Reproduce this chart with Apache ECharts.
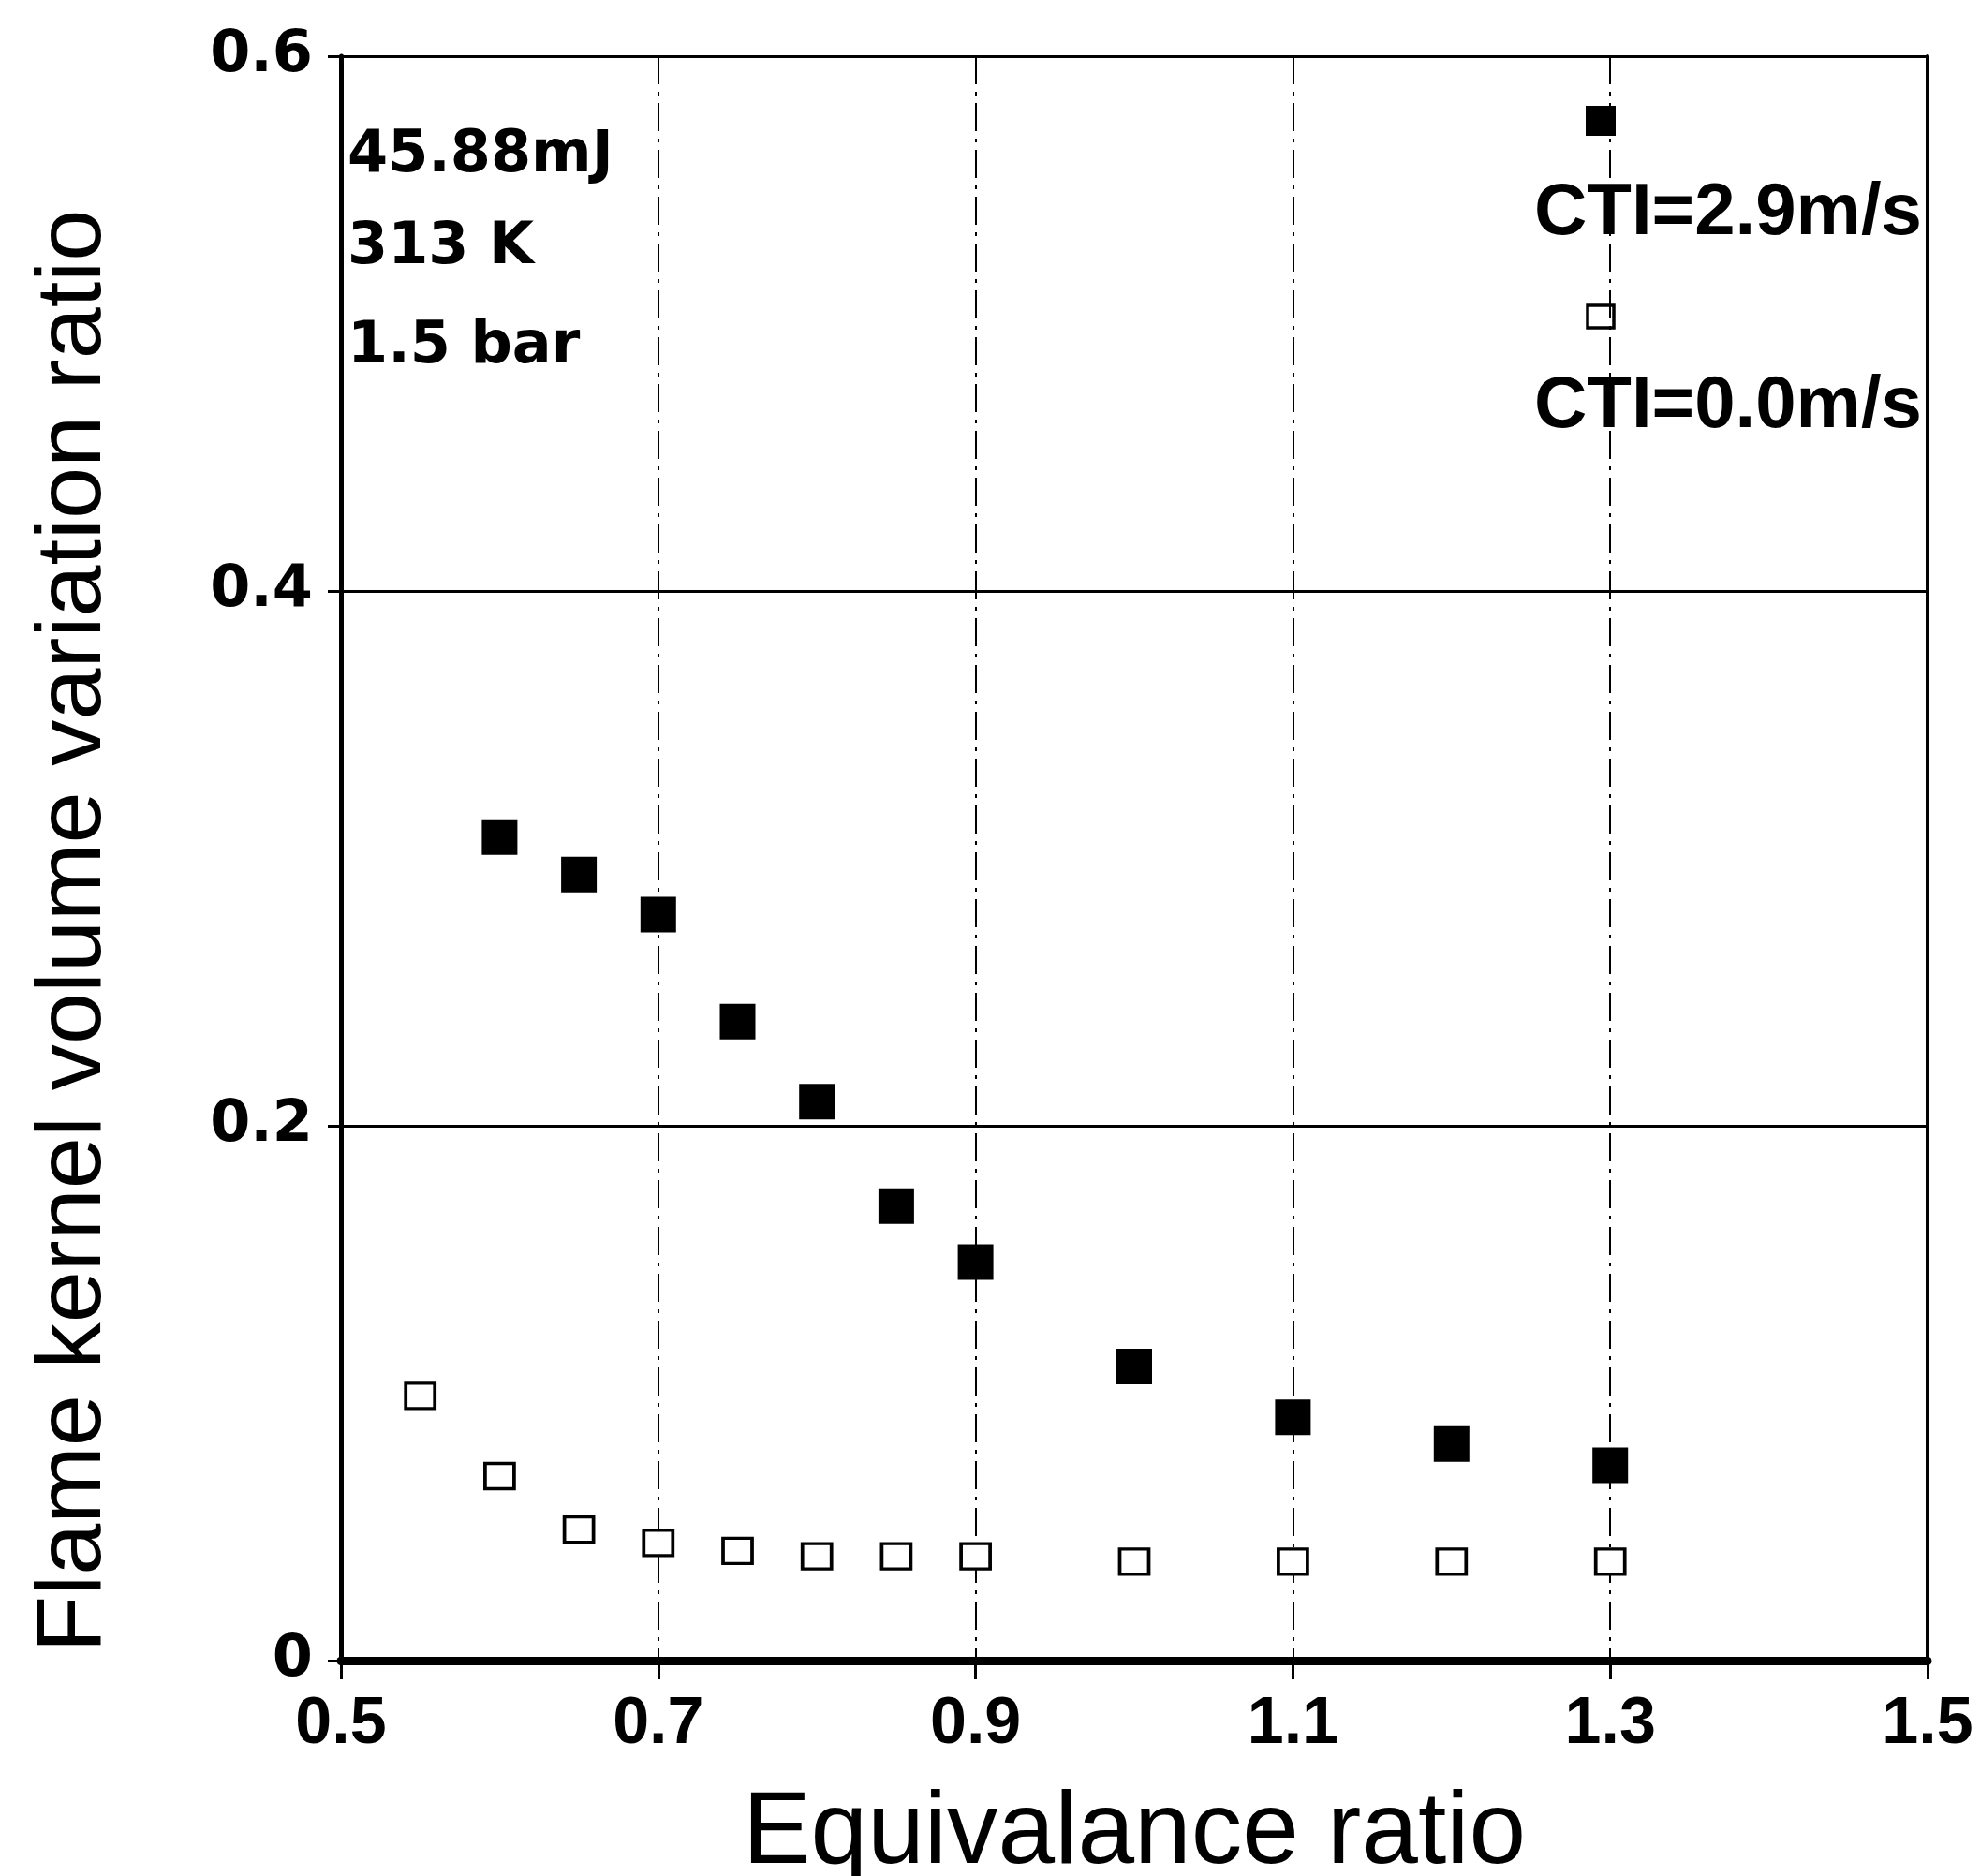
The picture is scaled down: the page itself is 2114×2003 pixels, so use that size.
<!DOCTYPE html>
<html>
<head>
<meta charset="utf-8">
<script src="https://cdn.jsdelivr.net/npm/echarts@6/dist/echarts.min.js"></script>
<style>
html,body{margin:0;padding:0;background:#fff;}
#chart{width:2114px;height:2003px;}
</style>
</head>
<body>
<div id="chart"></div>
<script>
// Data
const phiCTI29 = [0.6, 0.65, 0.7, 0.75, 0.8, 0.85, 0.9, 1.0, 1.1, 1.2, 1.3];
const valCTI29 = [0.308, 0.294, 0.279, 0.239, 0.209, 0.170, 0.149, 0.110, 0.091, 0.081, 0.073];
const phiCTI00 = [0.55, 0.6, 0.65, 0.7, 0.75, 0.8, 0.85, 0.9, 1.0, 1.1, 1.2, 1.3];
const valCTI00 = [0.099, 0.069, 0.049, 0.044, 0.041, 0.039, 0.039, 0.039, 0.037, 0.037, 0.037, 0.037];
const xTicks = [0.5, 0.7, 0.9, 1.1, 1.3, 1.5];
const yTicks = [0, 0.2, 0.4, 0.6];
const seriesNames = ['CTI=2.9m/s', 'CTI=0.0m/s'];
const noteLines = ['45.88mJ', '313 K', '1.5 bar'];
const xTitle = 'Equivalance ratio';
const yTitle = 'Flame kernel volume variation ratio';

const FONT = '"Liberation Sans", Arial, Helvetica, sans-serif';
const WIDE = '"DejaVu Sans", "Liberation Sans", sans-serif';
const chart = echarts.init(document.getElementById('chart'));

function pairs(xs, ys) { return xs.map((x, i) => [x, ys[i]]); }

const option = {
  backgroundColor: '#fff',
  animation: false,
  grid: { left: 364, right: 56, top: 60, bottom: 230, containLabel: false, outerBoundsMode: 'none' },
  xAxis: [{
    type: 'value', position: 'bottom',
    min: xTicks[0], max: xTicks[xTicks.length - 1], interval: 0.2,
    axisLine: { show: true, lineStyle: { color: '#000', width: 9 } },
    axisTick: { show: true, inside: false, length: 20, lineStyle: { color: '#000', width: 3 } },
    axisLabel: { fontFamily: FONT, fontSize: 70, fontWeight: 'bold', color: '#000', margin: 34,
      formatter: v => (Math.round(v * 10) / 10).toFixed(1) },
    splitLine: { show: true, lineStyle: { color: '#000', width: 2, type: [30, 8, 4, 8] } },
    name: xTitle, nameLocation: 'middle', nameGap: 131,
    nameTextStyle: { fontFamily: FONT, fontSize: 109, color: '#000' }
  }, {
    type: 'value', position: 'top',
    min: xTicks[0], max: xTicks[xTicks.length - 1], interval: 0.2,
    axisLine: { show: true, lineStyle: { color: '#000', width: 8 } },
    axisTick: { show: false }, axisLabel: { show: false }, splitLine: { show: false }
  }],
  yAxis: [{
    type: 'value', position: 'left',
    min: yTicks[0], max: yTicks[yTicks.length - 1], interval: 0.2,
    axisLine: { show: true, lineStyle: { color: '#000', width: 5 } },
    axisTick: { show: true, inside: false, length: 14, lineStyle: { color: '#000', width: 3 } },
    axisLabel: { fontFamily: WIDE, fontSize: 62, fontWeight: 'bold', color: '#000', margin: 30,
      formatter: v => v === 0 ? '0' : (Math.round(v * 10) / 10).toFixed(1) },
    splitLine: { show: true, lineStyle: { color: '#000', width: 3, type: 'solid' } }
  }, {
    type: 'value', position: 'right',
    min: yTicks[0], max: yTicks[yTicks.length - 1], interval: 0.2,
    axisLine: { show: true, lineStyle: { color: '#000', width: 4 } },
    axisTick: { show: false }, axisLabel: { show: false }, splitLine: { show: false }
  }],
  series: [{
    name: seriesNames[0], type: 'scatter', xAxisIndex: 0, yAxisIndex: 0,
    symbol: 'rect', symbolSize: 38,
    itemStyle: { color: '#000', opacity: 1 },
    data: pairs(phiCTI29, valCTI29), z: 5
  }, {
    name: seriesNames[1], type: 'scatter', xAxisIndex: 0, yAxisIndex: 0,
    symbol: 'rect', symbolSize: [31, 27],
    itemStyle: { color: '#fff', borderColor: '#000', borderWidth: 3.5, opacity: 1 },
    data: pairs(phiCTI00, valCTI00), z: 5
  }],
  graphic: [
    { type: 'text', x: 80, y: 994, rotation: Math.PI / 2,
      style: { text: yTitle, font: '99px ' + FONT, fill: '#000', align: 'center', verticalAlign: 'middle' } },
    { type: 'text', left: 371, top: 136, style: { text: noteLines[0], font: 'bold 62px ' + WIDE, fill: '#000' } },
    { type: 'text', left: 371, top: 234, style: { text: noteLines[1], font: 'bold 62px ' + WIDE, fill: '#000' } },
    { type: 'text', left: 371, top: 340, style: { text: noteLines[2], font: 'bold 62px ' + WIDE, fill: '#000' } },
    { type: 'rect', shape: { x: 1693, y: 113, width: 32, height: 32 }, style: { fill: '#000' } },
    { type: 'text', right: 62, top: 189, style: { text: seriesNames[0], font: 'bold 78px ' + FONT, fill: '#000' } },
    { type: 'rect', shape: { x: 1695, y: 326, width: 28, height: 24 }, style: { fill: '#fff', stroke: '#000', lineWidth: 3.5 } },
    { type: 'text', right: 62, top: 395, style: { text: seriesNames[1], font: 'bold 78px ' + FONT, fill: '#000' } }
  ]
};
chart.setOption(option);
</script>
</body>
</html>
